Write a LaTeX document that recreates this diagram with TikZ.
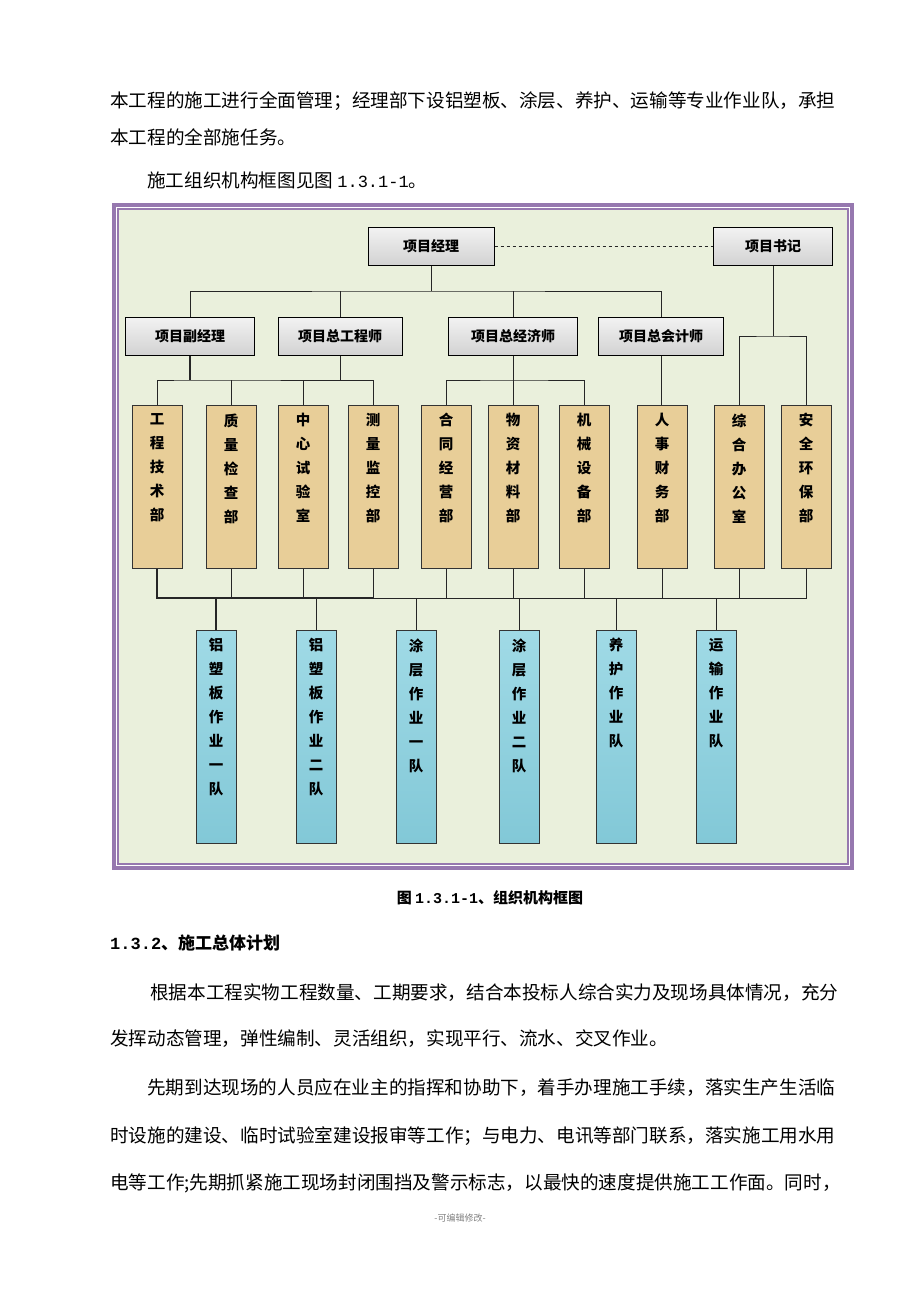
\documentclass[tikz,border=0pt]{standalone}
\usepackage{fontspec}
\setmainfont{Noto Sans CJK SC}
\newfontfamily\monof{Liberation Mono}
\definecolor{frm}{RGB}{150,120,175}
\definecolor{bgg}{RGB}{234,240,220}
\definecolor{tan}{RGB}{232,206,152}
\definecolor{tmA}{RGB}{160,218,230}
\definecolor{tmB}{RGB}{130,200,215}
\newcommand{\vtxt}[2]{\parbox[c][#1][t]{40pt}{\centering\vspace*{8pt}#2\par}}
\begin{document}
\begin{tikzpicture}[x=1pt,y=-1pt,
 body/.style={anchor=west,inner sep=0pt,font=\fontsize{18.6}{19}\selectfont},
 topbox/.style={draw=black,line width=1pt,top color=gray!10,bottom color=gray!35,minimum height=38pt,inner sep=0pt,font=\bfseries\fontsize{14}{16}\selectfont},
 dept/.style={draw=black!80,line width=0.9pt,fill=tan,minimum width=50pt,minimum height=163pt,anchor=north,inner sep=0pt,font=\bfseries\fontsize{14.5}{24}\selectfont},
 team/.style={draw=black!80,line width=0.9pt,top color=tmA,bottom color=tmB,minimum width=40pt,minimum height=213pt,anchor=north,inner sep=0pt,font=\bfseries\fontsize{14.5}{24}\selectfont},
 ln/.style={line width=1pt,black!85}]
\useasboundingbox (0,0) rectangle (920,1302);
\fill[white] (0,0) rectangle (920,1302);
% text
\node[body] (t1) at (110,101) {本工程的施工进行全面管理；经理部下设铝塑板、涂层、养护、运输等专业作业队，承担};
\node[body] (t2) at (110,137) {本工程的全部施任务。};
\node[body] (t3) at (147,180) {施工组织机构框图见图 {\monof\fontsize{17}{18}\selectfont 1.3.1-1}。};
% frame
\fill[frm] (112,203) rectangle (854,870);
\fill[white] (116,207) rectangle (850,866);
\fill[frm] (117,208) rectangle (849,865);
\fill[bgg] (119,210) rectangle (847,863);
\node[topbox,minimum width=126pt] (pm) at (431,246) {项目经理};
\node[topbox,minimum width=119pt] (sj) at (773,246) {项目书记};
\draw[ln,dashed,line width=0.7pt] (pm.east) -- (sj.west);
\node[topbox,minimum width=129pt] (a1) at (190,336) {项目副经理};
\node[topbox,minimum width=124pt] (a2) at (340,336) {项目总工程师};
\node[topbox,minimum width=129pt] (a3) at (513,336) {项目总经济师};
\node[topbox,minimum width=125pt] (a4) at (661,336) {项目总会计师};
\coordinate (h1) at (431,291);
\draw[ln] (pm.south) -- (h1);
\draw[ln] (a1.north) |- (h1) -| (a4.north);
\draw[ln] (a2.north) -- (a2.north |- h1);
\draw[ln] (a3.north) -- (a3.north |- h1);
% depts
\node[dept] (d1) at (157,405) {\vtxt{163pt}{工\\程\\技\\术\\部}};
\node[dept] (d2) at (231,405) {\vtxt{163pt}{质\\量\\检\\查\\部}};
\node[dept] (d3) at (303,405) {\vtxt{163pt}{中\\心\\试\\验\\室}};
\node[dept] (d4) at (373,405) {\vtxt{163pt}{测\\量\\监\\控\\部}};
\node[dept] (d5) at (446,405) {\vtxt{163pt}{合\\同\\经\\营\\部}};
\node[dept] (d6) at (513,405) {\vtxt{163pt}{物\\资\\材\\料\\部}};
\node[dept] (d7) at (584,405) {\vtxt{163pt}{机\\械\\设\\备\\部}};
\node[dept] (d8) at (662,405) {\vtxt{163pt}{人\\事\\财\\务\\部}};
\node[dept] (d9) at (739,405) {\vtxt{163pt}{综\\合\\办\\公\\室}};
\node[dept] (d10) at (806,405) {\vtxt{163pt}{安\\全\\环\\保\\部}};
\coordinate (h2) at (190,380);
\draw[ln,line width=1.5pt] (a1.south) -- (h2);
\draw[ln] (d1.north) |- (h2) -| (d4.north);
\draw[ln] (a2.south) -- (a2.south |- h2);
\draw[ln] (d2.north) -- (d2.north |- h2);
\draw[ln] (d3.north) -- (d3.north |- h2);
\coordinate (h3) at (513,380);
\draw[ln] (a3.south) -- (d6.north);
\draw[ln] (d5.north) |- (h3) -| (d7.north);
\draw[ln] (a4.south) -- (a4.south |- d8.north);
\coordinate (h4) at (773,336);
\draw[ln] (sj.south) -- (h4);
\draw[ln] (d9.north) |- (h4) -| (d10.north);
% teams
\node[team] (e1) at (216,630) {\vtxt{213pt}{铝\\塑\\板\\作\\业\\一\\队}};
\node[team] (e2) at (316,630) {\vtxt{213pt}{铝\\塑\\板\\作\\业\\二\\队}};
\node[team] (e3) at (416,630) {\vtxt{213pt}{涂\\层\\作\\业\\一\\队}};
\node[team] (e4) at (519,630) {\vtxt{213pt}{涂\\层\\作\\业\\二\\队}};
\node[team] (e5) at (616,630) {\vtxt{213pt}{养\\护\\作\\业\\队}};
\node[team] (e6) at (716,630) {\vtxt{213pt}{运\\输\\作\\业\\队}};
\coordinate (h5) at (157,598);
\coordinate (h6) at (806,598);
\draw[ln,line width=1.5pt] (d1.south) -- (h5) -- (373,598);
\draw[ln] (373,598) -- (h6) -- (d10.south);
\foreach \d in {d2,d3,d4,d5,d6,d7,d8,d9} \draw[ln] (\d.south) -- (\d.south |- h5);
\draw[ln,line width=1.5pt] (e1.north) -- (e1.north |- h5);
\foreach \e in {e2,e3,e4,e5,e6} \draw[ln] (\e.north) -- (\e.north |- h5);
% below
\node[inner sep=0pt,font=\bfseries\fontsize{15}{16}\selectfont] (cap) at (490,898) {图 {\monof\bfseries 1.3.1-1}、组织机构框图};
\node[body,font=\bfseries\fontsize{17}{18}\selectfont] (hd) at (110,943) {{\monof\bfseries 1.3.2}、施工总体计划};
\node[body] (p1) at (150,993) {根据本工程实物工程数量、工期要求，结合本投标人综合实力及现场具体情况，充分};
\node[body] (p2) at (110,1039) {发挥动态管理，弹性编制、灵活组织，实现平行、流水、交叉作业。};
\node[body] (p3) at (147,1088) {先期到达现场的人员应在业主的指挥和协助下，着手办理施工手续，落实生产生活临};
\node[body] (p4) at (110,1136) {时设施的建设、临时试验室建设报审等工作；与电力、电讯等部门联系，落实施工用水用};
\node[body] (p5) at (110,1183) {电等工作;先期抓紧施工现场封闭围挡及警示标志，以最快的速度提供施工工作面。同时，};
\node[inner sep=0pt,font=\fontsize{9}{10}\selectfont,text=gray] (ft) at (460,1218) {-可编辑修改-};
\end{tikzpicture}
\end{document}
